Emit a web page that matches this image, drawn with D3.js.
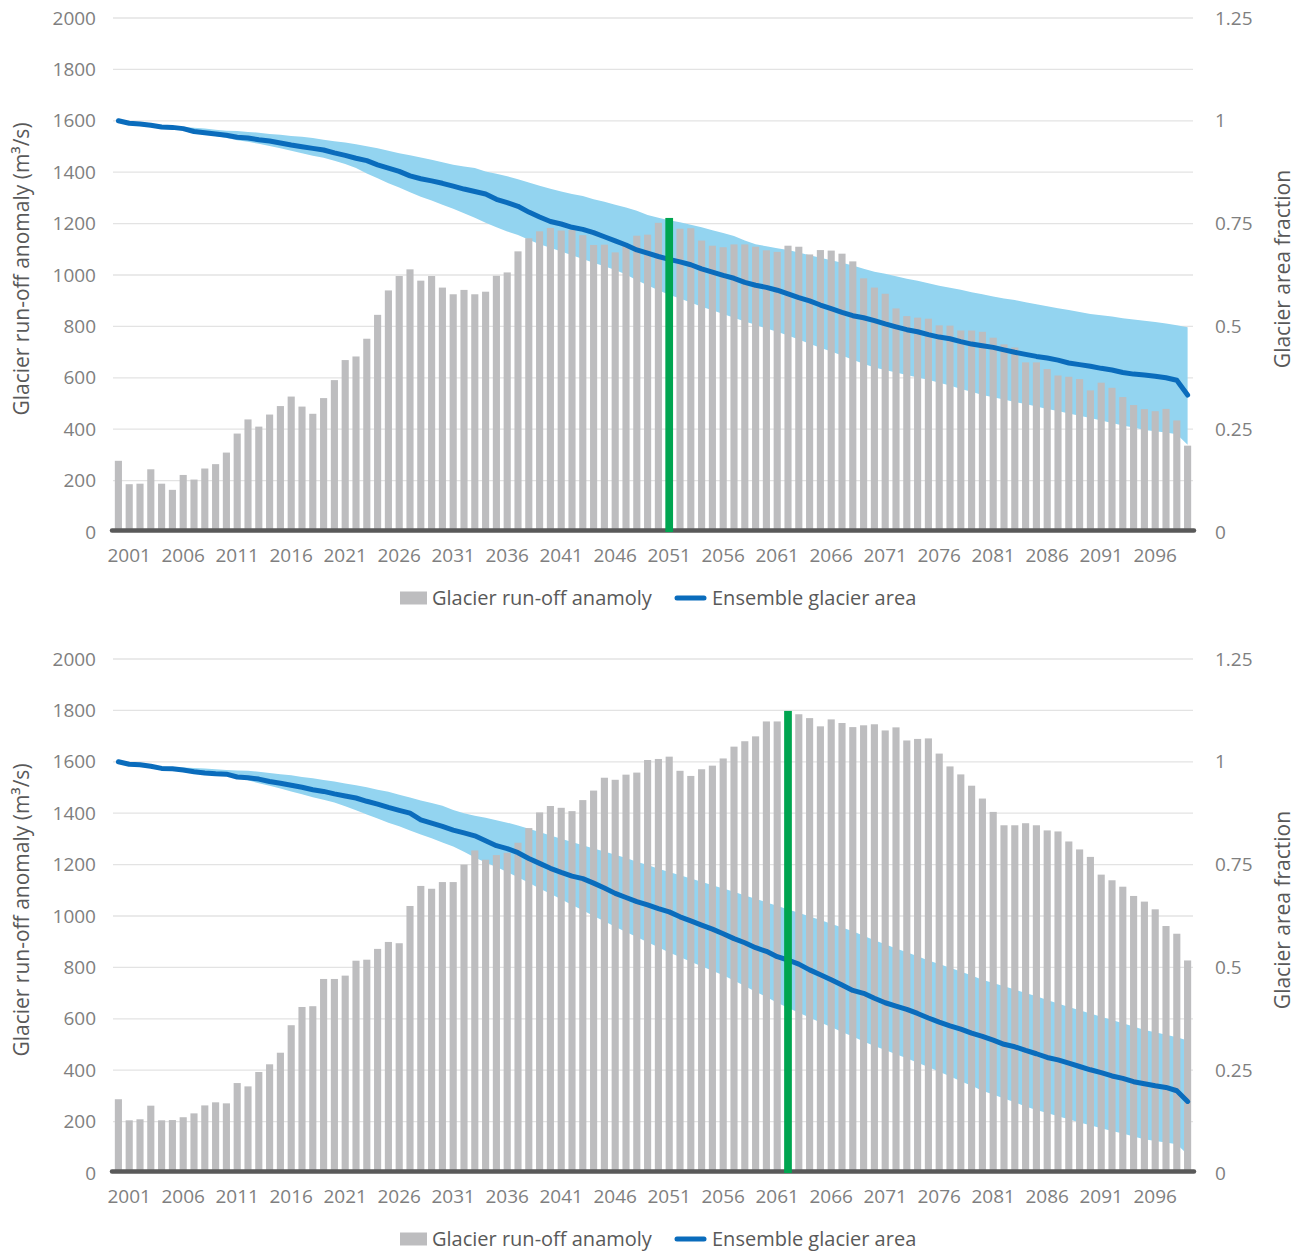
<!DOCTYPE html>
<html>
<head>
<meta charset="utf-8">
<script src="https://d3js.org/d3.v7.min.js"></script>
<style>
  body { margin: 0; background: #fff; }
  svg text { font-family: "Open Sans", sans-serif; }
</style>
</head>
<body>
<svg width="1306" height="1256"></svg>
<script>
// categories: one bar per year
const years = d3.range(2000, 2100);
const yearTicks = [2001, 2006, 2011, 2016, 2021, 2026, 2031, 2036, 2041, 2046,
                   2051, 2056, 2061, 2066, 2071, 2076, 2081, 2086, 2091, 2096];
const runoffTicks = [0, 200, 400, 600, 800, 1000, 1200, 1400, 1600, 1800, 2000];
const areaTicks = [0, 0.25, 0.5, 0.75, 1, 1.25];

// ---- top chart ----
const runoffTop = [
  277,186,188,244,188,164,222,204,247,264,
  309,383,438,410,457,490,527,488,460,521,
  591,669,683,752,845,940,996,1022,978,996,
  951,925,942,925,935,997,1010,1092,1143,1170,
  1183,1173,1175,1155,1117,1118,1088,1116,1153,1157,
  1203,1222,1180,1182,1134,1114,1108,1119,1119,1110,
  1096,1090,1114,1110,1080,1097,1095,1083,1053,987,
  951,927,870,840,834,830,804,803,784,784,
  779,756,730,718,660,660,634,609,604,595,
  551,581,561,525,494,478,470,479,434,336];
const areaTop = [
  1.000,0.994,0.992,0.989,0.985,0.984,0.981,0.974,0.971,0.968,
  0.965,0.960,0.958,0.954,0.951,0.946,0.941,0.937,0.933,0.929,
  0.922,0.916,0.909,0.903,0.893,0.885,0.877,0.866,0.859,0.854,
  0.848,0.841,0.834,0.828,0.822,0.809,0.801,0.792,0.778,0.766,
  0.755,0.749,0.741,0.736,0.728,0.718,0.708,0.698,0.686,0.678,
  0.670,0.663,0.657,0.650,0.640,0.632,0.624,0.617,0.607,0.600,
  0.595,0.588,0.579,0.570,0.562,0.552,0.543,0.534,0.526,0.521,
  0.514,0.506,0.499,0.492,0.487,0.480,0.474,0.470,0.463,0.457,
  0.453,0.449,0.443,0.437,0.432,0.427,0.423,0.418,0.411,0.407,
  0.403,0.398,0.394,0.388,0.384,0.382,0.379,0.375,0.369,0.333];
const areaTopHigh = [
  1.000,0.996,0.994,0.992,0.989,0.987,0.985,0.983,0.981,0.978,
  0.976,0.975,0.973,0.971,0.968,0.966,0.963,0.961,0.958,0.954,
  0.950,0.947,0.943,0.938,0.933,0.927,0.921,0.916,0.911,0.905,
  0.899,0.893,0.889,0.885,0.877,0.871,0.865,0.858,0.850,0.842,
  0.835,0.828,0.822,0.817,0.809,0.803,0.796,0.789,0.781,0.771,
  0.764,0.758,0.753,0.747,0.741,0.734,0.727,0.720,0.709,0.700,
  0.695,0.690,0.686,0.680,0.673,0.667,0.661,0.655,0.648,0.640,
  0.633,0.628,0.622,0.616,0.611,0.605,0.599,0.594,0.589,0.583,
  0.578,0.573,0.568,0.564,0.559,0.554,0.549,0.544,0.540,0.535,
  0.530,0.527,0.524,0.520,0.517,0.514,0.511,0.507,0.503,0.498];
const areaTopLow = [
  1.000,0.995,0.993,0.990,0.986,0.982,0.979,0.972,0.968,0.963,
  0.958,0.953,0.949,0.944,0.939,0.933,0.927,0.921,0.915,0.910,
  0.903,0.895,0.885,0.872,0.860,0.848,0.838,0.826,0.815,0.806,
  0.796,0.786,0.775,0.764,0.752,0.741,0.731,0.722,0.711,0.700,
  0.691,0.682,0.673,0.664,0.655,0.646,0.637,0.626,0.612,0.600,
  0.588,0.577,0.568,0.558,0.548,0.539,0.530,0.521,0.512,0.504,
  0.495,0.487,0.478,0.468,0.458,0.448,0.439,0.429,0.419,0.409,
  0.400,0.394,0.388,0.382,0.376,0.370,0.363,0.356,0.348,0.341,
  0.333,0.328,0.322,0.316,0.311,0.305,0.299,0.294,0.288,0.283,
  0.277,0.271,0.265,0.259,0.254,0.248,0.245,0.242,0.238,0.212];

// ---- bottom chart ----
const runoffBottom = [
  287,205,209,262,205,206,217,232,263,275,
  271,350,337,393,423,468,575,646,649,755,
  755,768,826,830,872,899,894,1039,1117,1106,
  1132,1132,1200,1255,1219,1237,1246,1285,1342,1403,
  1428,1421,1408,1451,1488,1538,1530,1550,1558,1607,
  1611,1620,1565,1545,1571,1585,1613,1659,1680,1699,
  1757,1757,1798,1785,1770,1738,1765,1751,1735,1742,
  1746,1722,1734,1683,1689,1691,1632,1582,1551,1507,
  1457,1405,1353,1353,1361,1353,1333,1329,1290,1259,
  1230,1161,1139,1114,1078,1056,1026,961,931,827];
const areaBottom = [
  1.000,0.994,0.993,0.989,0.984,0.983,0.980,0.976,0.973,0.971,
  0.970,0.963,0.961,0.958,0.952,0.948,0.943,0.938,0.932,0.928,
  0.922,0.917,0.912,0.904,0.897,0.889,0.882,0.875,0.859,0.851,
  0.843,0.834,0.827,0.820,0.808,0.796,0.789,0.779,0.765,0.753,
  0.741,0.731,0.722,0.716,0.705,0.693,0.680,0.670,0.660,0.652,
  0.643,0.635,0.623,0.613,0.603,0.593,0.582,0.570,0.560,0.548,
  0.539,0.526,0.518,0.508,0.494,0.482,0.470,0.457,0.444,0.437,
  0.425,0.414,0.406,0.398,0.388,0.377,0.367,0.358,0.350,0.340,
  0.332,0.323,0.313,0.307,0.298,0.290,0.281,0.275,0.267,0.259,
  0.251,0.244,0.236,0.230,0.222,0.217,0.212,0.208,0.200,0.174];
const areaBottomHigh = [
  1.000,0.997,0.995,0.992,0.989,0.987,0.986,0.985,0.984,0.982,
  0.980,0.979,0.978,0.976,0.973,0.970,0.967,0.963,0.960,0.956,
  0.952,0.947,0.943,0.938,0.932,0.927,0.920,0.913,0.906,0.900,
  0.893,0.883,0.875,0.869,0.864,0.858,0.852,0.845,0.837,0.829,
  0.821,0.813,0.805,0.797,0.789,0.782,0.774,0.766,0.757,0.749,
  0.740,0.732,0.724,0.716,0.708,0.700,0.692,0.684,0.675,0.667,
  0.658,0.650,0.641,0.633,0.624,0.615,0.606,0.597,0.588,0.577,
  0.566,0.556,0.546,0.537,0.527,0.517,0.508,0.499,0.490,0.480,
  0.470,0.462,0.454,0.446,0.438,0.430,0.421,0.412,0.404,0.396,
  0.388,0.380,0.372,0.364,0.356,0.348,0.342,0.336,0.330,0.322];
const areaBottomLow = [
  1.000,0.995,0.992,0.988,0.984,0.982,0.979,0.976,0.974,0.971,
  0.968,0.962,0.955,0.948,0.942,0.935,0.928,0.921,0.914,0.908,
  0.901,0.892,0.882,0.872,0.862,0.852,0.843,0.833,0.823,0.814,
  0.804,0.794,0.781,0.767,0.755,0.744,0.732,0.719,0.706,0.692,
  0.679,0.666,0.652,0.639,0.625,0.612,0.599,0.586,0.574,0.561,
  0.549,0.536,0.525,0.514,0.503,0.492,0.481,0.468,0.455,0.441,
  0.428,0.414,0.402,0.390,0.378,0.366,0.355,0.343,0.332,0.320,
  0.309,0.299,0.289,0.279,0.268,0.258,0.246,0.235,0.223,0.212,
  0.200,0.191,0.181,0.172,0.162,0.153,0.146,0.138,0.131,0.123,
  0.116,0.109,0.102,0.096,0.089,0.082,0.078,0.074,0.070,0.045];

const peakYears = [2051, 2062];

var svg = d3.select("svg");
const left = 113, right = 1193, plotH = 514;

function drawPanel(top, runoff, area, low, high, peak) {
  const base = top + plotH;
  const g = svg.append("g");

  const x = d3.scaleBand().domain(years).range([left, right])
    .paddingInner(0.34).paddingOuter(0.17);
  const yL = d3.scaleLinear().domain([0, 2000]).range([base, top]);
  const yR = d3.scaleLinear().domain([0, 1.25]).range([base, top]);
  const cx = yr => x(yr) + x.bandwidth() / 2;

  const rows = years.map((yr, i) => ({ yr: yr, v: runoff[i], a: area[i], lo: low[i], hi: high[i] }));

  // gridlines
  g.append("g").selectAll("line").data(runoffTicks.slice(1)).join("line")
    .attr("x1", left).attr("x2", right)
    .attr("y1", d => yL(d)).attr("y2", d => yL(d))
    .attr("stroke", "#e3e3e3").attr("stroke-width", 1.3);

  // range of glacier area
  g.append("path").datum(rows)
    .attr("fill", "#93d4f0")
    .attr("d", d3.area().x(d => cx(d.yr)).y0(d => yR(d.lo)).y1(d => yR(d.hi)));

  // run-off bars
  g.append("g").selectAll("rect").data(rows.filter(d => d.yr !== peak)).join("rect")
    .attr("x", d => x(d.yr))
    .attr("y", d => yL(d.v))
    .attr("width", x.bandwidth())
    .attr("height", d => base - yL(d.v))
    .attr("fill", "#bdbdbf");

  // ensemble line
  g.append("path").datum(rows)
    .attr("fill", "none")
    .attr("stroke", "#0a6cbc")
    .attr("stroke-width", 5)
    .attr("stroke-linecap", "round")
    .attr("stroke-linejoin", "round")
    .attr("d", d3.line().x(d => cx(d.yr)).y(d => yR(d.a)));

  // axis line
  g.append("line")
    .attr("x1", left - 1).attr("x2", right + 1)
    .attr("y1", base - 1.5).attr("y2", base - 1.5)
    .attr("stroke", "#595959").attr("stroke-width", 4.5)
    .attr("stroke-linecap", "round");

  // peak year bar
  const pk = rows.filter(d => d.yr === peak);
  g.append("g").selectAll("rect").data(pk).join("rect")
    .attr("x", d => x(d.yr) - 0.3)
    .attr("y", d => yL(d.v))
    .attr("width", x.bandwidth() + 0.6)
    .attr("height", d => base - yL(d.v))
    .attr("fill", "#00a550");

  // axes
  const ax = g.append("g").attr("transform", "translate(0," + base + ")")
    .call(d3.axisBottom(x).tickValues(yearTicks).tickSize(0).tickPadding(17));
  const al = g.append("g").attr("transform", "translate(" + left + ",0)")
    .call(d3.axisLeft(yL).tickValues(runoffTicks).tickFormat(d3.format("d")).tickSize(0).tickPadding(17));
  const ar = g.append("g").attr("transform", "translate(" + right + ",0)")
    .call(d3.axisRight(yR).tickValues(areaTicks).tickFormat(d => String(d)).tickSize(0).tickPadding(22));
  [ax, al, ar].forEach(a => {
    a.select(".domain").remove();
    a.selectAll("text").attr("font-size", 19).attr("fill", "#7f7f7f")
      .attr("font-family", "Open Sans, sans-serif");
  });

  // axis titles
  const mid = top + plotH / 2 - 6;
  g.append("text")
    .attr("transform", "translate(22," + mid + ") rotate(-90)")
    .attr("text-anchor", "middle").attr("dy", "0.35em")
    .attr("font-size", 21).attr("fill", "#595959")
    .text("Glacier run-off anomaly (m³/s)");
  g.append("text")
    .attr("transform", "translate(1283," + mid + ") rotate(-90)")
    .attr("text-anchor", "middle").attr("dy", "0.35em")
    .attr("font-size", 21).attr("fill", "#595959")
    .text("Glacier area fraction");

  // legend
  const ly = base + 66;
  g.append("rect").attr("x", 400).attr("y", ly - 6.5).attr("width", 27).attr("height", 13)
    .attr("fill", "#bdbdbf");
  g.append("text").attr("x", 432).attr("y", ly).attr("dy", "0.35em")
    .attr("font-size", 20).attr("fill", "#595959").text("Glacier run-off anamoly");
  g.append("line").attr("x1", 677).attr("x2", 704).attr("y1", ly).attr("y2", ly)
    .attr("stroke", "#0a6cbc").attr("stroke-width", 5).attr("stroke-linecap", "round");
  g.append("text").attr("x", 712).attr("y", ly).attr("dy", "0.35em")
    .attr("font-size", 20).attr("fill", "#595959").text("Ensemble glacier area");
}

drawPanel(18, runoffTop, areaTop, areaTopLow, areaTopHigh, peakYears[0]);
drawPanel(659, runoffBottom, areaBottom, areaBottomLow, areaBottomHigh, peakYears[1]);
</script>
</body>
</html>
